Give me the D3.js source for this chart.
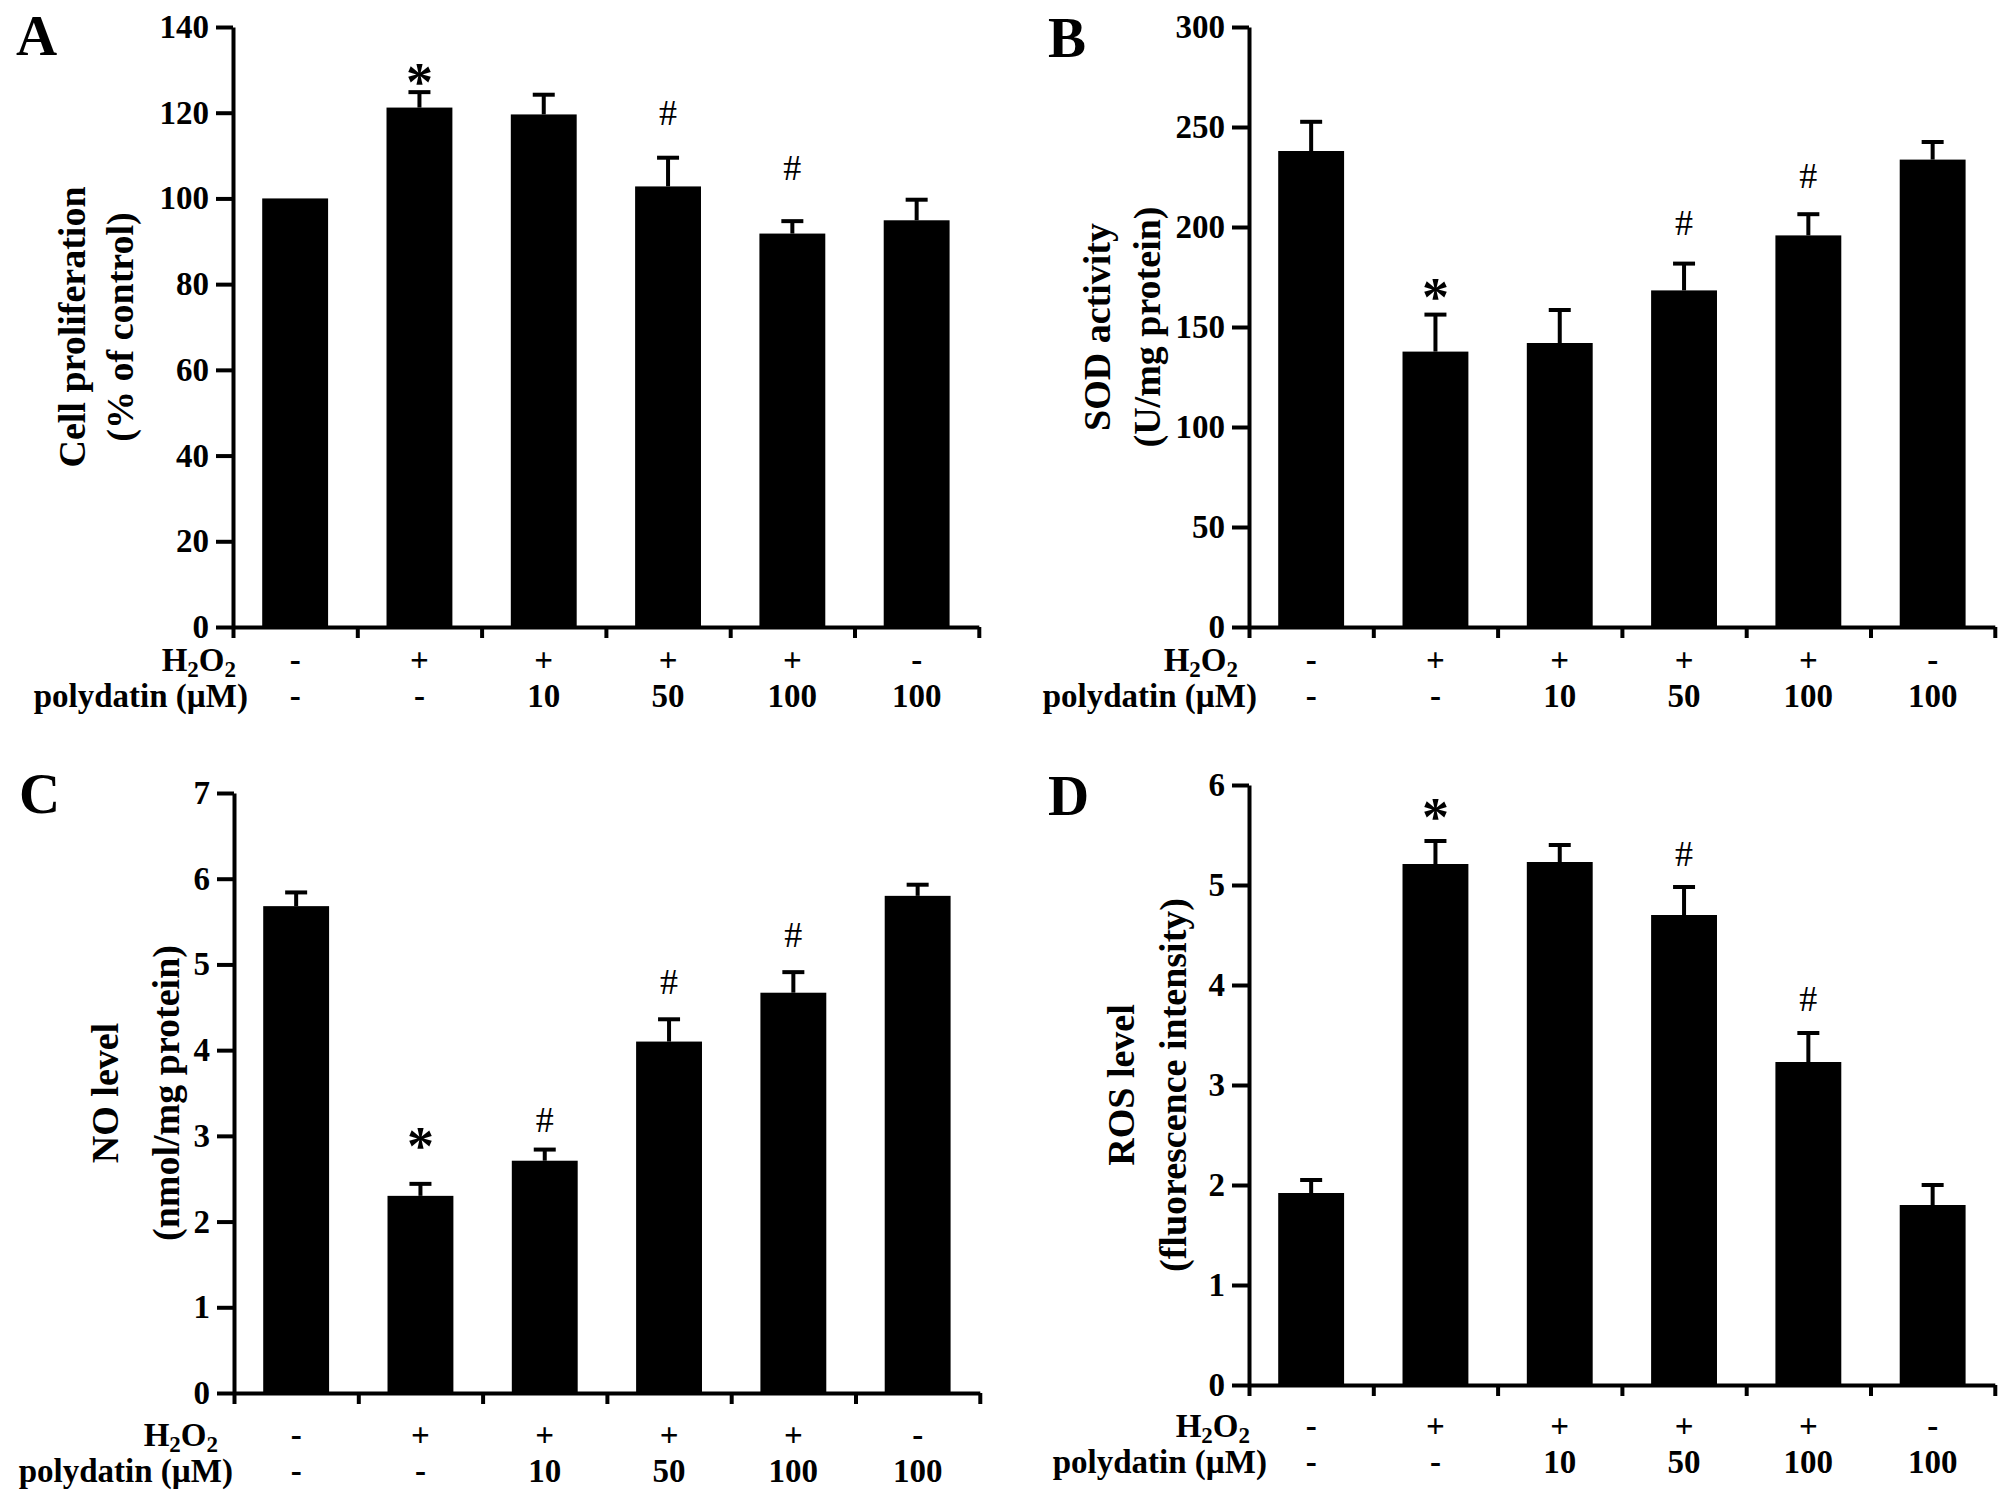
<!DOCTYPE html>
<html>
<head>
<meta charset="utf-8">
<script src="https://cdn.jsdelivr.net/npm/d3@7"></script>
<style>
  body { margin: 0; background: #fff; }
  text { font-family: "Liberation Serif", "Times New Roman", serif; font-weight: bold; fill: #000; }
</style>
</head>
<body>
<div id="chart"></div>
<script>
// groups shared by all four panels
const groups = ["control", "H2O2", "H2O2+P10", "H2O2+P50", "H2O2+P100", "P100"];
const h2o2Labels = ["-", "+", "+", "+", "+", "-"];
const polydatinLabels = ["-", "-", "10", "50", "100", "100"];

// A: cell proliferation
const prolifTicks = [0, 20, 40, 60, 80, 100, 120, 140];
const prolifMean = [100, 121.2, 119.6, 102.8, 91.8, 94.9];
const prolifErr = [0, 3.6, 4.6, 6.7, 2.9, 4.8];
const prolifMarks = ["", "*", "", "#", "#", ""];
const prolifMarkAt = [0, 129, 0, 120, 107, 0];

// B: SOD activity
const sodTicks = [0, 50, 100, 150, 200, 250, 300];
const sodMean = [238, 137.7, 142, 168.3, 195.8, 233.7];
const sodErr = [14.6, 18.5, 16.5, 13.4, 10.6, 8.8];
const sodMarks = ["", "*", "", "#", "#", ""];
const sodMarkAt = [0, 169, 0, 202, 225.5, 0];

// C: NO level
const noTicks = [0, 1, 2, 3, 4, 5, 6, 7];
const noMean = [5.68, 2.30, 2.71, 4.10, 4.67, 5.80];
const noErr = [0.16, 0.14, 0.13, 0.26, 0.24, 0.13];
const noMarks = ["", "*", "#", "#", "#", ""];
const noMarkAt = [0, 2.97, 3.19, 4.80, 5.34, 0];

// D: ROS level
const rosTicks = [0, 1, 2, 3, 4, 5, 6];
const rosMean = [1.92, 5.21, 5.23, 4.70, 3.23, 1.80];
const rosErr = [0.13, 0.23, 0.17, 0.28, 0.29, 0.20];
const rosMarks = ["", "*", "", "#", "#", ""];
const rosMarkAt = [0, 5.76, 0, 5.31, 3.86, 0];

const panels = [
  {letter: "A", lx: 16, ly: 55, ax: 233, y0: 627, step: 124.3, ticks: prolifTicks, mean: prolifMean, err: prolifErr, marks: prolifMarks, markAt: prolifMarkAt,
   title: ["Cell proliferation", "(% of control)"], tx: [85, 133], rowY: [671, 707], rowX: [236, 248]},
  {letter: "B", lx: 1048, ly: 57, ax: 1249, y0: 627, step: 124.3, ticks: sodTicks, mean: sodMean, err: sodErr, marks: sodMarks, markAt: sodMarkAt,
   title: ["SOD activity", "(U/mg protein)"], tx: [1110, 1160], rowY: [671, 707], rowX: [1238, 1257]},
  {letter: "C", lx: 19, ly: 813, ax: 234, y0: 1393, step: 124.3, ticks: noTicks, mean: noMean, err: noErr, marks: noMarks, markAt: noMarkAt,
   title: ["NO level", "(nmol/mg protein)"], tx: [118, 179], rowY: [1446, 1482], rowX: [218, 233]},
  {letter: "D", lx: 1048, ly: 815, ax: 1249, y0: 1385, step: 124.3, ticks: rosTicks, mean: rosMean, err: rosErr, marks: rosMarks, markAt: rosMarkAt,
   title: ["ROS level", "(fluorescence intensity)"], tx: [1134, 1186], rowY: [1437, 1473], rowX: [1250, 1267]}
];

const W = 2008, H = 1501, plotH = 600;

const svg = d3.select("#chart")
  .append("svg")
    .attr("width", W)
    .attr("height", H)
    .attr("viewBox", [0, 0, W, H]);

svg.append("rect").attr("width", W).attr("height", H).attr("fill", "#fff");

const drawPanel = (p) => {
  const g = svg.append("g");
  const xEnd = p.ax + p.step * groups.length;

  const x = d3.scaleBand()
    .domain(groups)
    .range([p.ax, xEnd])
    .paddingInner(0.47)
    .paddingOuter(0.235);
  const xEdge = d3.scaleLinear().domain([0, groups.length]).range([p.ax, xEnd]);
  const y = d3.scaleLinear()
    .domain([0, d3.max(p.ticks)])
    .range([p.y0, p.y0 - plotH]);
  const mid = d => x(d) + x.bandwidth() / 2;
  const idx = d => groups.indexOf(d);

  // bars
  g.selectAll(".bar")
    .data(groups)
    .enter()
    .append("rect")
      .attr("x", d => x(d))
      .attr("y", (d, i) => y(p.mean[i]))
      .attr("width", x.bandwidth())
      .attr("height", (d, i) => p.y0 - y(p.mean[i]))
      .attr("fill", "#000");

  // error bars, upper half only
  const eb = g.selectAll(".err")
    .data(groups.filter((d, i) => p.err[i] > 0))
    .enter()
    .append("g")
      .attr("stroke", "#000")
      .attr("stroke-width", 4);
  eb.append("line")
    .attr("x1", mid)
    .attr("x2", mid)
    .attr("y1", d => y(p.mean[idx(d)]))
    .attr("y2", d => y(p.mean[idx(d)] + p.err[idx(d)]));
  eb.append("line")
    .attr("x1", d => mid(d) - 11)
    .attr("x2", d => mid(d) + 11)
    .attr("y1", d => y(p.mean[idx(d)] + p.err[idx(d)]))
    .attr("y2", d => y(p.mean[idx(d)] + p.err[idx(d)]));

  // significance marks
  g.selectAll(".mark")
    .data(groups.filter((d, i) => p.marks[i] !== ""))
    .enter()
    .append("text")
      .attr("text-anchor", "middle")
      .attr("x", mid)
      .attr("y", d => y(p.markAt[idx(d)]) + (p.marks[idx(d)] === "*" ? 26 : 12))
      .style("font-size", d => p.marks[idx(d)] === "*" ? "54px" : "36px")
      .style("font-weight", d => p.marks[idx(d)] === "*" ? "bold" : "normal")
      .text(d => p.marks[idx(d)]);

  // y axis
  g.append("g")
    .attr("transform", `translate(${p.ax},0)`)
    .call(d3.axisLeft(y).tickValues(p.ticks).tickFormat(d3.format("d"))
      .tickSize(17).tickSizeOuter(0).tickPadding(7))
    .call(a => a.selectAll("path, line").attr("stroke", "#000").attr("stroke-width", 4))
    .call(a => a.selectAll("text").style("font-size", "33px").attr("fill", "#000"));

  // x axis with ticks at group boundaries
  g.append("g")
    .attr("transform", `translate(0,${p.y0})`)
    .call(d3.axisBottom(xEdge).tickValues(d3.range(groups.length + 1)).tickSize(11).tickSizeOuter(0).tickFormat(""))
    .call(a => a.selectAll("path, line").attr("stroke", "#000").attr("stroke-width", 4));

  // treatment rows
  const rowH = g.append("text")
    .attr("x", p.rowX[0]).attr("y", p.rowY[0])
    .attr("text-anchor", "end")
    .style("font-size", "33px");
  rowH.append("tspan").text("H");
  rowH.append("tspan").attr("dy", 6).style("font-size", "23px").text("2");
  rowH.append("tspan").attr("dy", -6).text("O");
  rowH.append("tspan").attr("dy", 6).style("font-size", "23px").text("2");

  g.append("text")
    .attr("x", p.rowX[1]).attr("y", p.rowY[1])
    .attr("text-anchor", "end")
    .style("font-size", "33px")
    .text("polydatin (\u00b5M)");

  [h2o2Labels, polydatinLabels].forEach((labels, r) => {
    g.selectAll(".row" + r)
      .data(groups)
      .enter()
      .append("text")
        .attr("text-anchor", "middle")
        .attr("x", mid)
        .attr("y", p.rowY[r])
        .style("font-size", "33px")
        .text((d, i) => labels[i]);
  });

  // y title, two lines
  p.title.forEach((t, k) => {
    g.append("text")
      .attr("transform", `translate(${p.tx[k]},${p.y0 - plotH / 2}) rotate(-90)`)
      .attr("text-anchor", "middle")
      .style("font-size", "38px")
      .text(t);
  });

  // panel letter
  g.append("text")
    .attr("x", p.lx).attr("y", p.ly)
    .style("font-size", "57px")
    .text(p.letter);
};

panels.forEach(drawPanel);
</script>
</body>
</html>
